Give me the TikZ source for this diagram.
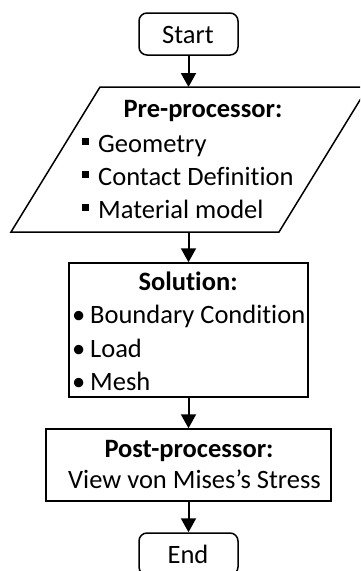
\documentclass[tikz,border=0pt]{standalone}
\usepackage{fontspec}
\setmainfont{Carlito}[Ligatures={NoCommon,NoContextual}]
\usetikzlibrary{arrows.meta}
\begin{document}
\begin{tikzpicture}[x=1pt,y=-1pt,
  box/.style={draw=black,line width=1.5pt,rectangle,inner sep=0pt},
  term/.style={box,rounded corners=8pt},
  arr/.style={line width=2pt,-{Triangle[width=15pt,length=14pt]}},
  txt/.style={inner sep=0pt,font=\fontsize{26.5}{33}\selectfont},
  ttl/.style={txt,anchor=base,font=\fontsize{26.5}{33}\selectfont\bfseries},
  itm/.style={txt,anchor=base west}]
\useasboundingbox (0,0) rectangle (360,571);
\clip (0,0) rectangle (360,571);
% shapes
\node[term,minimum width=99pt,minimum height=42pt] (start) at (188.5,34) {};
\draw[line width=1.5pt] (100,87) -- (368,87) -- (279,232) -- (11,232) -- cycle;
\coordinate (pretop) at (188.5,87);
\coordinate (prebot) at (188.5,232);
\node[box,minimum width=239pt,minimum height=134pt] (sol) at (188.5,330) {};
\node[box,minimum width=285pt,minimum height=72pt] (post) at (188.5,465) {};
\node[term,minimum width=99pt,minimum height=42pt] (end) at (188.5,554) {};
% texts
\node[txt,anchor=base] (ts) at (188,43) {Start};
\node[ttl] (tpre) at (203,117) {Pre-processor:};
\node[itm] (g) at (81.5,152) {\rule[7pt]{7pt}{7pt}\hspace{9.5pt}Geometry};
\node[itm] (c) at (81.5,185) {\rule[7pt]{7pt}{7pt}\hspace{9.5pt}Contact Definition};
\node[itm] (m) at (81.5,218) {\rule[7pt]{7pt}{7pt}\hspace{9.5pt}Material model};
\node[ttl] (tsol) at (188,290) {Solution:};
\node[itm] (b) at (72,323) {\makebox[18pt][l]{•}Boundary Condition};
\node[itm] (l) at (72,357) {\makebox[18pt][l]{•}Load};
\node[itm] (me) at (72,390) {\makebox[18pt][l]{•}Mesh};
\node[ttl] (tpost) at (189,457) {Post-processor:};
\node[txt,anchor=base west] (v) at (68,488) {View von Mises’s Stress};
\node[txt,anchor=base] (te) at (188,563) {End};
% connectors
\draw[arr] (start.south) -- (pretop);
\draw[arr] (prebot) -- (sol.north);
\draw[arr] (sol.south) -- (post.north);
\draw[arr] (post.south) -- (end.north);
\end{tikzpicture}
\end{document}
